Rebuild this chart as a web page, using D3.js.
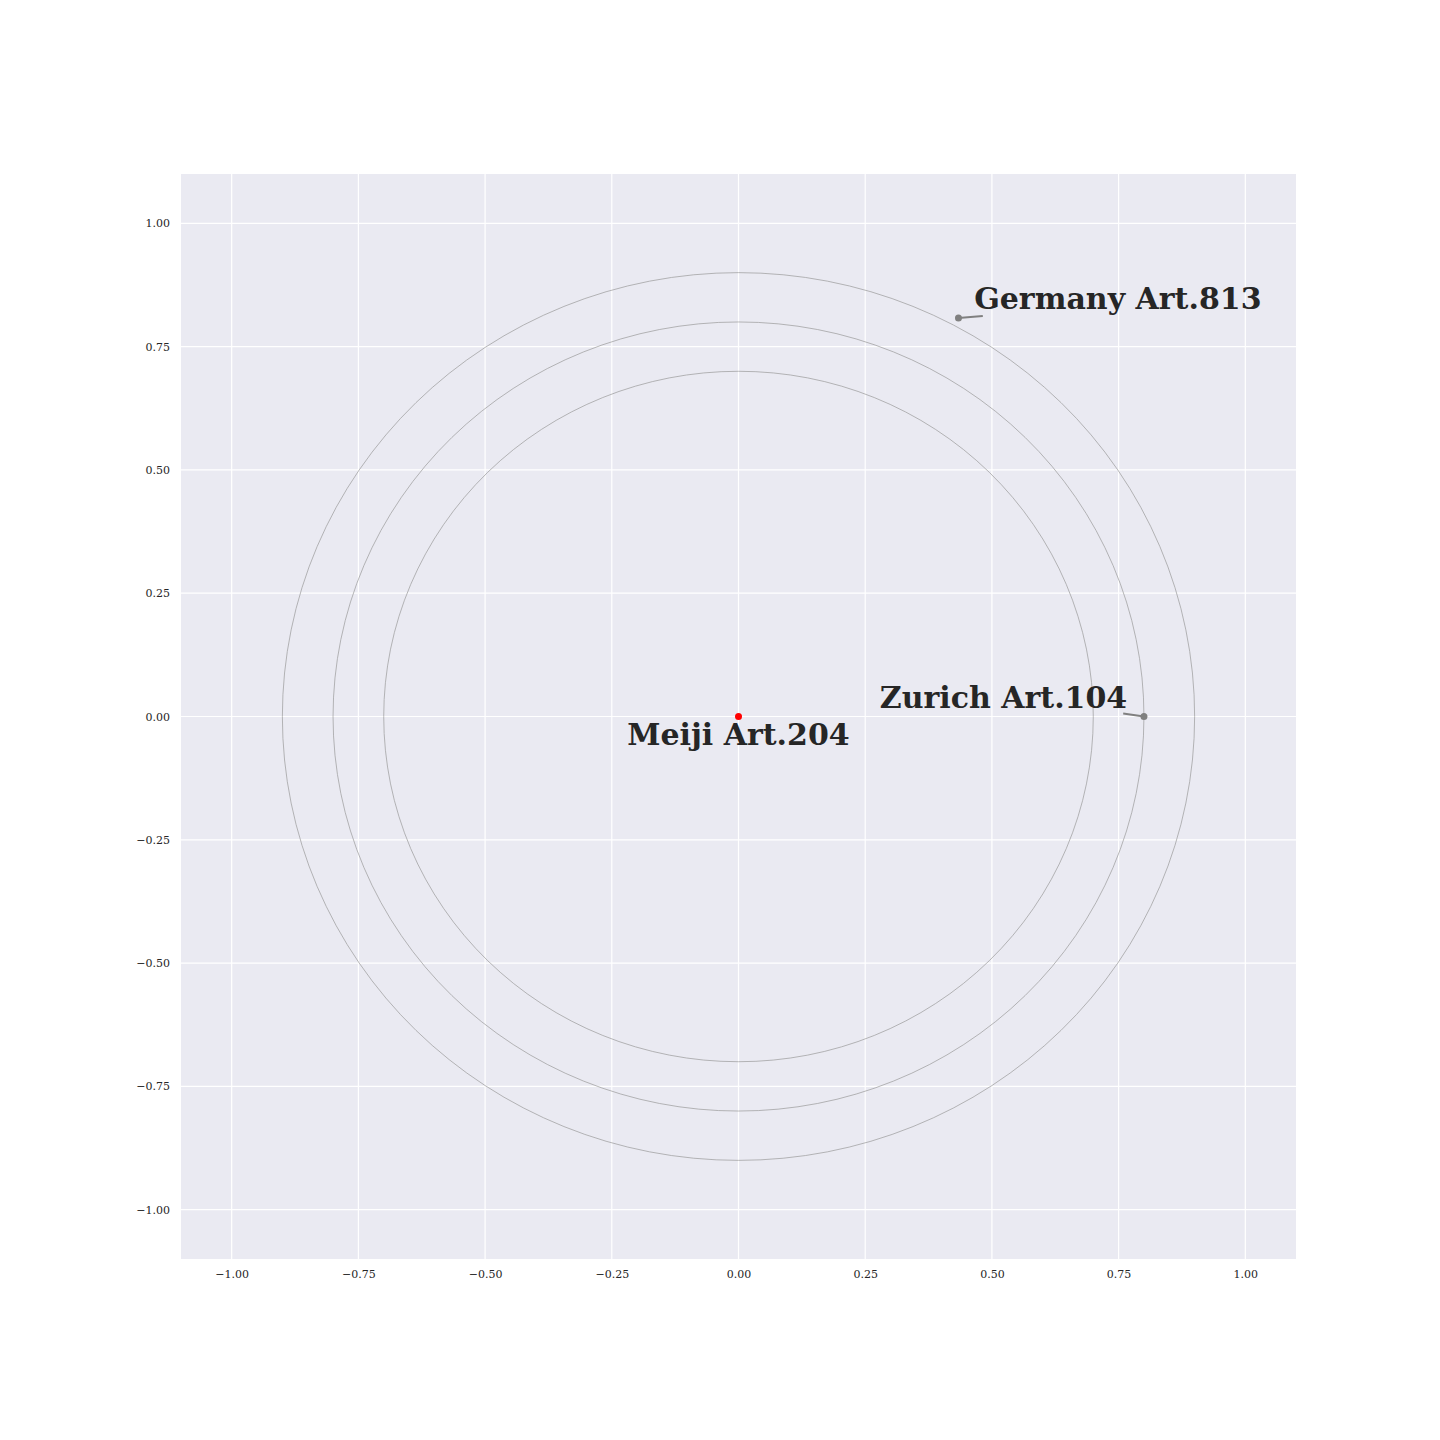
<!DOCTYPE html>
<html><head><meta charset="utf-8">
<script src="https://cdn.jsdelivr.net/npm/d3@7"></script>
<style>body{margin:0;background:#fff}</style>
</head><body>
<svg id="c" width="1440" height="1440"></svg>
<script>
const labels = ["Meiji Art.204", "Zurich Art.104", "Germany Art.813"];
const xs = [0, 0.80, 0.434];
const ys = [0, 0, 0.808];
const colors = ["red", "grey", "grey"];
const ringRadii = [0.7, 0.8, 0.9];
const tickVals = [-1, -0.75, -0.5, -0.25, 0, 0.25, 0.5, 0.75, 1];
// label text anchor positions in data coords
const labelX = [0, 0.767, 0.465];
const labelY = [-0.057, 0.018, 0.827];
const labelAnchor = ["middle", "end", "start"];
const connX = [null, 0.759, 0.482];
const connY = [null, 0.006, 0.812];

const svg = d3.select("#c");
const L = 181, R = 1296, T = 174, B = 1259;
const x = d3.scaleLinear().domain([-1.1, 1.1]).range([L, R]);
const y = d3.scaleLinear().domain([-1.1, 1.1]).range([B, T]);

svg.append("rect").attr("x", L).attr("y", T).attr("width", R - L).attr("height", B - T).attr("fill", "#eaeaf2");

const g = svg.append("g");
g.selectAll(".gx").data(tickVals).join("line")
  .attr("x1", d => x(d)).attr("x2", d => x(d)).attr("y1", T).attr("y2", B)
  .attr("stroke", "#fff").attr("stroke-width", 1.2);
g.selectAll(".gy").data(tickVals).join("line")
  .attr("y1", d => y(d)).attr("y2", d => y(d)).attr("x1", L).attr("x2", R)
  .attr("stroke", "#fff").attr("stroke-width", 1.2);

const fmt = d => d3.format(".2f")(d).replace("-", "\u2212");
const xa = d3.axisBottom(x).tickValues(tickVals).tickFormat(fmt).tickSize(0).tickPadding(11);
const ya = d3.axisLeft(y).tickValues(tickVals).tickFormat(fmt).tickSize(0).tickPadding(11);
const gxA = svg.append("g").attr("transform", `translate(0,${B})`).call(xa);
const gyA = svg.append("g").attr("transform", `translate(${L},0)`).call(ya);
[gxA, gyA].forEach(a => {
  a.select(".domain").remove();
  a.selectAll("text").attr("font-family", "DejaVu Serif").attr("font-size", 11).attr("fill", "#262626");
});

g.selectAll(".ring").data(ringRadii).join("ellipse")
  .attr("cx", x(0)).attr("cy", y(0))
  .attr("rx", d => x(d) - x(0)).attr("ry", d => y(0) - y(d))
  .attr("fill", "none").attr("stroke", "#999").attr("stroke-width", 0.7);

const idx = d3.range(labels.length);
g.selectAll(".conn").data(idx.filter(i => connX[i] !== null)).join("line")
  .attr("x1", i => x(xs[i])).attr("y1", i => y(ys[i]))
  .attr("x2", i => x(connX[i])).attr("y2", i => y(connY[i]))
  .attr("stroke", "grey").attr("stroke-width", 2);

g.selectAll(".pt").data(idx).join("circle")
  .attr("cx", i => x(xs[i])).attr("cy", i => y(ys[i])).attr("r", 3.5)
  .attr("fill", i => colors[i]);

g.selectAll(".lbl").data(idx).join("text")
  .attr("x", i => x(labelX[i])).attr("y", i => y(labelY[i]))
  .attr("text-anchor", i => labelAnchor[i])
  .attr("font-family", "DejaVu Serif").attr("font-weight", "bold").attr("font-size", 30)
  .attr("fill", "#262626")
  .text(i => labels[i]);
</script>
</body></html>
